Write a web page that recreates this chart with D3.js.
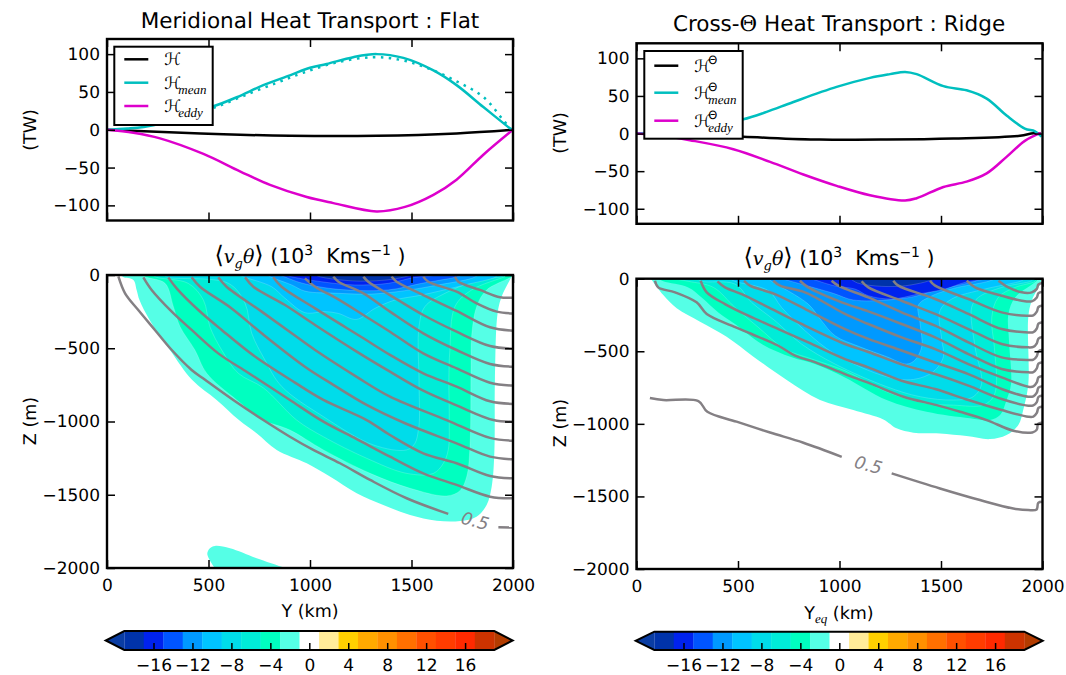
<!DOCTYPE html>
<html><head><meta charset="utf-8">
<script src="https://cdnjs.cloudflare.com/ajax/libs/d3/7.8.5/d3.min.js"></script>
<style>
html,body{margin:0;padding:0;background:#fff}
svg{display:block}
text{font-family:"DejaVu Sans",sans-serif;fill:#000;text-rendering:geometricPrecision}
</style></head><body>
<svg id="c" width="1066" height="675"></svg>
<script>
// ---------- shared values
const colorLevels = d3.range(-19, 20, 2);
const colorBins = ["#0033aa","#0022ee","#0055ff","#0099ff","#00c4ff","#00dcea","#00ecd8","#00ffc0","#55ffe6","#ffffff","#ffeb99","#ffd000","#ffaa00","#ff9000","#ff7000","#ff5000","#ff3c00","#ff2a00","#cc3300"];
const colorUnder = "#0a3da3", colorOver = "#b33c00";
const cbarTicks = [-16,-12,-8,-4,0,4,8,12,16];
const xTicks = [0,500,1000,1500,2000];
const heatTicks = [-100,-50,0,50,100];
const depthTicks = [0,-500,-1000,-1500,-2000];

// ---------- top-left: heat transport (Y km, TW)
const flatTotal = [[0,0],[245,-2.6],[573,-6],[901,-7.9],[1328,-7.9],[1722,-4.8],[2000,0]];
const flatMean = [[0,0],[100,1.5],[228,6],[350,17],[450,26],[524,31],[639,43],[770,59],[901,72],[1000,82],[1082,87],[1213,96],[1328,100],[1460,95],[1608,78.5],[1722,59],[1854,30],[1993,0]];
const flatMeanDotted = [[524,29],[557,32],[688,46.5],[836,62],[967,75.4],[1131,89],[1312,96],[1443,92.5],[1575,82],[1722,64],[1854,43.4],[1952,12.7],[1993,0]];
const flatEddy = [[0,0],[130,-4],[261,-11.4],[475,-32],[655,-55],[803,-73],[984,-89],[1115,-97],[1328,-108],[1468,-102],[1608,-86],[1722,-66],[1854,-33],[2000,0]];

// ---------- top-right
const ridgeTotal = [[0,0],[250,-2],[526,-4.4],[903,-8],[1232,-8],[1561,-6.6],[1889,-3],[1955,0.4],[1991,0]];
const ridgeMean = [[0,0],[150,3],[300,10],[400,14],[526,19],[641,28.8],[773,42],[986,62],[1150,74],[1249,79],[1323,82],[1380,79],[1512,63],[1626,57.5],[1725,46.5],[1823,24],[1913,6.6],[1963,3],[1995,-4]];
const ridgeEddy = [[0,0],[130,-3],[263,-8.8],[477,-20.8],[658,-37.6],[822,-54.4],[986,-69.5],[1150,-82],[1323,-89],[1380,-86],[1512,-71],[1626,-64],[1725,-53],[1823,-31],[1913,-9.7],[1991,0.9]];

// ---------- bottom-left filled contours (Y km, Z m), each tagged by its colour-bin value
const flatBinM2 = [[70,0],[80,-14],[130,-34],[146,-102],[160,-171],[210,-307],[310,-512],[420,-717],[540,-853],[650,-990],[737,-1080],[836,-1194],[984,-1285],[1098,-1376],[1230,-1490],[1361,-1570],[1493,-1638],[1624,-1677],[1740,-1679],[1820,-1650],[1870,-1570],[1895,-1445],[1908,-1217],[1911,-717],[1924,-262],[1944,-148],[1993,-11],[1996,0]];
const flatBlob = [[536,-2010],[494,-1904],[507,-1865],[532,-1849],[606,-1865],[737,-1933],[901,-2010]];
const flatBinM4 = [[170,0],[195,-16],[286,-57],[327,-216],[360,-353],[433,-512],[491,-671],[639,-853],[770,-990],[901,-1058],[1066,-1194],[1296,-1354],[1493,-1456],[1673,-1508],[1739,-1472],[1772,-1376],[1788,-1172],[1793,-648],[1796,-421],[1821,-216],[1870,-102],[1993,-11],[1996,0]];
const flatBinM6 = [[225,0],[245,-16],[400,-57],[475,-171],[507,-353],[565,-512],[647,-671],[770,-770],[934,-990],[1066,-1104],[1279,-1251],[1476,-1354],[1608,-1354],[1657,-1285],[1681,-1194],[1686,-990],[1684,-717],[1689,-512],[1714,-216],[1796,-102],[1960,-11],[1975,0]];
const flatBinM8 = [[280,0],[300,-16],[598,-57],[680,-193],[713,-398],[778,-580],[860,-760],[1066,-967],[1312,-1160],[1476,-1194],[1517,-1149],[1534,-1058],[1539,-990],[1537,-717],[1537,-353],[1566,-216],[1665,-125],[1829,-34],[1944,-11],[1955,0]];
const flatBinM10 = [[650,0],[680,-16],[811,-80],[877,-159],[975,-257],[1074,-250],[1139,-262],[1229,-303],[1320,-228],[1418,-171],[1550,-137],[1763,-68],[1911,-16],[1925,0]];
const flatBinM12 = [[790,0],[811,-16],[910,-68],[975,-110],[1139,-125],[1304,-130],[1467,-107],[1632,-68],[1796,-23],[1830,0]];
const flatBinM14 = [[850,0],[870,-10],[960,-55],[1139,-98],[1385,-102],[1550,-57],[1714,-16],[1750,0]];
const flatBinM16 = [[890,0],[900,-8],[1057,-46],[1221,-68],[1385,-57],[1517,-16],[1600,-5],[1620,0]];
const flatBinM18 = [[1030,0],[1040,-8],[1100,-25],[1250,-42],[1400,-30],[1480,-8],[1500,0]];

// ---------- bottom-right filled contours
const ridgeBinM2 = [[70,0],[75,-9],[132,-113],[198,-204],[313,-296],[444,-400],[576,-537],[740,-698],[904,-836],[1068,-905],[1216,-970],[1281,-1031],[1364,-1061],[1495,-1066],[1626,-1084],[1741,-1105],[1823,-1077],[1881,-1008],[1905,-905],[1930,-726],[1930,-266],[1947,-152],[1988,-37],[1995,0]];
const ridgeBinM4 = [[110,0],[132,-18],[255,-60],[321,-129],[403,-232],[485,-312],[617,-450],[765,-542],[879,-588],[1027,-680],[1232,-836],[1429,-917],[1643,-962],[1741,-974],[1791,-939],[1823,-836],[1845,-726],[1835,-427],[1832,-243],[1865,-129],[1963,-25],[1980,0]];
const ridgeBinM6 = [[180,0],[255,-18],[379,-60],[485,-198],[600,-335],[731,-485],[863,-553],[1027,-634],[1232,-779],[1429,-859],[1561,-871],[1708,-871],[1758,-813],[1773,-726],[1763,-473],[1750,-266],[1782,-129],[1865,-60],[1963,-18],[1970,0]];
const ridgeBinM8 = [[300,0],[321,-18],[485,-37],[567,-163],[682,-289],[813,-450],[978,-588],[1232,-744],[1397,-813],[1561,-836],[1659,-813],[1700,-726],[1668,-473],[1651,-197],[1684,-129],[1799,-60],[1947,-14],[1955,0]];
const ridgeBinM10 = [[460,0],[485,-18],[650,-83],[715,-198],[830,-358],[978,-519],[1232,-675],[1364,-694],[1462,-641],[1512,-537],[1504,-423],[1495,-220],[1553,-140],[1717,-71],[1897,-14],[1910,0]];
const ridgeBinM12 = [[650,0],[666,-18],[846,-175],[911,-289],[978,-393],[1100,-469],[1232,-537],[1331,-588],[1372,-560],[1405,-469],[1397,-308],[1389,-181],[1446,-124],[1561,-67],[1725,-21],[1770,0]];
const ridgeBinM14 = [[720,0],[740,-9],[970,-101],[1068,-147],[1232,-147],[1364,-124],[1479,-78],[1659,-21],[1700,0]];
const ridgeBinM16 = [[860,0],[880,-9],[978,-50],[1076,-71],[1142,-117],[1257,-140],[1388,-106],[1520,-71],[1618,-25],[1700,-7],[1720,0]];
const ridgeBinM18 = [[1050,0],[1060,-7],[1090,-30],[1180,-50],[1300,-52],[1400,-30],[1460,-7],[1475,0]];

const flatLayers = [[-2,flatBinM2],[-2,flatBlob],[-4,flatBinM4],[-6,flatBinM6],[-8,flatBinM8],[-10,flatBinM10],[-12,flatBinM12],[-14,flatBinM14],[-16,flatBinM16],[-18,flatBinM18]];
const ridgeLayers = [[-2,ridgeBinM2],[-4,ridgeBinM4],[-6,ridgeBinM6],[-8,ridgeBinM8],[-10,ridgeBinM10],[-12,ridgeBinM12],[-14,ridgeBinM14],[-16,ridgeBinM16],[-18,ridgeBinM18]];

// ---------- bottom-left grey isolines
const flatIso0a = [[56,-10],[89,-125],[154,-239],[236,-375],[319,-512],[417,-648],[483,-715],[622,-853],[770,-990],[901,-1104],[1016,-1194],[1148,-1285],[1296,-1399],[1476,-1524],[1681,-1631]];
const flatIso0b = [[1928,-1722],[2000,-1724]];
const flatIso1 = [[179,-16],[220,-102],[319,-250],[417,-375],[548,-535],[680,-654],[754,-720],[901,-853],[1066,-1001],[1230,-1120],[1394,-1240],[1558,-1354],[1722,-1433],[1887,-1513],[2000,-1524]];
const flatIso2 = [[302,-16],[343,-91],[450,-239],[565,-375],[729,-557],[926,-735],[1066,-853],[1279,-990],[1394,-1092],[1558,-1217],[1722,-1285],[1887,-1372],[2000,-1388]];
const flatIso3 = [[417,-16],[458,-80],[614,-228],[762,-398],[975,-626],[1115,-750],[1279,-887],[1468,-1012],[1722,-1149],[1887,-1240],[2000,-1258]];
const flatIso4 = [[548,-16],[589,-80],[762,-250],[910,-398],[1025,-512],[1230,-695],[1394,-830],[1673,-990],[1887,-1112],[2000,-1131]];
const flatIso5 = [[680,-16],[721,-80],[877,-205],[1025,-341],[1230,-523],[1394,-660],[1558,-790],[1722,-890],[1903,-990],[2000,-1001]];
const flatIso6 = [[819,-16],[860,-80],[1025,-228],[1263,-432],[1394,-545],[1558,-671],[1722,-762],[1887,-862],[2000,-880]];
const flatIso7 = [[975,-23],[1025,-80],[1131,-160],[1263,-273],[1394,-387],[1558,-535],[1722,-637],[1887,-735],[2000,-755]];
const flatIso8 = [[1115,-11],[1140,-46],[1263,-125],[1394,-250],[1558,-398],[1722,-512],[1887,-607],[2000,-626]];
const flatIso9 = [[1263,-11],[1287,-46],[1394,-137],[1558,-273],[1722,-387],[1887,-485],[2000,-503]];
const flatIso10 = [[1402,-11],[1427,-46],[1558,-137],[1722,-245],[1887,-357],[2000,-380]];
const flatIso11 = [[1558,-11],[1583,-46],[1722,-114],[1821,-193],[1920,-250],[2000,-262]];
const flatIso12 = [[1714,-11],[1731,-46],[1837,-102],[1936,-152],[2000,-155]];
const flatIsos = [flatIso0a,flatIso0b,flatIso1,flatIso2,flatIso3,flatIso4,flatIso5,flatIso6,flatIso7,flatIso8,flatIso9,flatIso10,flatIso11,flatIso12];

// ---------- bottom-right grey isolines
const ridgeIso0a = [[66,-822],[132,-836],[305,-843],[349,-917],[493,-985],[658,-1060],[822,-1130],[1011,-1227]];
const ridgeIso0b = [[1257,-1341],[1495,-1445],[1692,-1525],[1856,-1583],[1930,-1594],[1971,-1590],[1979,-1544],[2000,-1537]];
const ridgeIso1 = [[91,-14],[107,-60],[190,-94],[296,-163],[346,-243],[469,-324],[567,-381],[699,-462],[781,-530],[879,-575],[1027,-657],[1150,-721],[1315,-813],[1479,-871],[1594,-917],[1725,-974],[1856,-1047],[1950,-1059],[1972,-1040],[1978,-1000],[2000,-990]];
const ridgeIso2 = [[316,-14],[346,-94],[436,-175],[551,-255],[699,-347],[846,-439],[1027,-554],[1142,-611],[1306,-703],[1471,-760],[1635,-836],[1799,-905],[1930,-951],[1955,-950],[1972,-925],[1980,-890],[2000,-880]];
const ridgeIso3 = [[399,-18],[436,-60],[518,-106],[650,-197],[813,-312],[1027,-450],[1142,-505],[1306,-590],[1471,-657],[1635,-737],[1799,-829],[1930,-875],[1955,-872],[1972,-850],[1980,-815],[2000,-805]];
const ridgeIso4 = [[530,-14],[559,-48],[682,-106],[846,-220],[1027,-347],[1142,-415],[1306,-495],[1471,-577],[1635,-657],[1799,-760],[1930,-813],[1955,-810],[1972,-785],[1980,-750],[2000,-740]];
const ridgeIso5 = [[674,-14],[707,-48],[830,-94],[1027,-243],[1142,-312],[1306,-404],[1471,-485],[1635,-588],[1799,-680],[1930,-744],[1955,-742],[1972,-715],[1980,-680],[2000,-670]];
const ridgeIso6 = [[805,-14],[846,-60],[1011,-163],[1142,-225],[1306,-312],[1471,-404],[1635,-519],[1799,-622],[1930,-645],[1955,-643],[1972,-618],[1980,-585],[2000,-575]];
const ridgeIso7 = [[961,-14],[994,-48],[1142,-129],[1306,-232],[1471,-324],[1635,-439],[1799,-542],[1930,-560],[1955,-558],[1972,-533],[1980,-500],[2000,-490]];
const ridgeIso8 = [[1109,-18],[1142,-60],[1306,-152],[1471,-243],[1635,-347],[1799,-450],[1930,-473],[1955,-470],[1972,-445],[1980,-412],[2000,-402]];
const ridgeIso9 = [[1265,-14],[1290,-48],[1471,-140],[1635,-243],[1799,-347],[1930,-370],[1955,-368],[1972,-343],[1980,-310],[2000,-300]];
const ridgeIso10 = [[1446,-14],[1471,-48],[1635,-140],[1799,-232],[1922,-255],[1955,-252],[1972,-227],[1980,-195],[2000,-185]];
const ridgeIso11 = [[1627,-14],[1668,-60],[1799,-117],[1898,-152],[1947,-156],[1972,-130],[1980,-100],[2000,-90]];
const ridgeIso12 = [[1783,-14],[1832,-60],[1898,-94],[1947,-94],[1972,-70],[1980,-40],[2000,-30]];
const ridgeIsos = [ridgeIso0a,ridgeIso0b,ridgeIso1,ridgeIso2,ridgeIso3,ridgeIso4,ridgeIso5,ridgeIso6,ridgeIso7,ridgeIso8,ridgeIso9,ridgeIso10,ridgeIso11,ridgeIso12];

// ---------- drawing
const svg = d3.select("#c");
const binColor = d3.scaleThreshold().domain(colorLevels).range([colorUnder].concat(colorBins, [colorOver]));
const blue = "#00bfbf", pink = "#dd00cc", grey = "#848084";
const tickFont = 17;
let clipN = 0;

function frame(box, xDomain, yDomain, yT) {
  const x = d3.scaleLinear().domain(xDomain).range([box.x, box.x + box.w]);
  const y = d3.scaleLinear().domain(yDomain).range([box.y + box.h, box.y]);
  const id = "clip" + (clipN++);
  svg.append("clipPath").attr("id", id).append("rect").attr("x", box.x).attr("y", box.y).attr("width", box.w).attr("height", box.h);
  const g = svg.append("g").attr("clip-path", `url(#${id})`);
  return {x, y, g, box, yT};
}
function finish(p, showX) {
  const {x, y, box, yT} = p;
  const axes = svg.append("g");
  const style = s => { s.select(".domain").remove(); s.selectAll("line").attr("stroke", "#000").attr("stroke-width", 1.5); s.selectAll("text").attr("font-size", tickFont).attr("font-family", '"DejaVu Sans"').attr("fill","#000"); };
  axes.append("g").attr("transform", `translate(${box.x},0)`).call(d3.axisLeft(y).tickValues(yT).tickSize(-8).tickPadding(7).tickFormat(d3.format("d"))).call(style);
  axes.append("g").attr("transform", `translate(${box.x + box.w},0)`).call(d3.axisRight(y).tickValues(yT).tickSize(-8).tickFormat("")).call(style);
  axes.append("g").attr("transform", `translate(0,${box.y + box.h})`).call(d3.axisBottom(x).tickValues(xTicks).tickSize(-8).tickPadding(11).tickFormat(showX ? d3.format("d") : "")).call(style);
  axes.append("g").attr("transform", `translate(0,${box.y})`).call(d3.axisTop(x).tickValues(xTicks).tickSize(-8).tickFormat("")).call(style);
  axes.append("rect").attr("x", box.x).attr("y", box.y).attr("width", box.w).attr("height", box.h).attr("fill", "none").attr("stroke", "#000").attr("stroke-width", 2.4);
}
function label(txt, x, y, size, rot) {
  const t = svg.append("text").attr("x", x).attr("y", y).attr("font-size", size).attr("text-anchor", "middle").text(txt);
  if (rot) t.attr("transform", `rotate(${rot} ${x} ${y})`);
  return t;
}

function heatPanel(box, series, dotted, legendBox, legendRows, legendNames) {
  const p = frame(box, [0, 2000], [-120, 120], heatTicks);
  const line = d3.line().x(d => p.x(d[0])).y(d => p.y(d[1])).curve(d3.curveCatmullRom.alpha(0.5));
  if (dotted) p.g.append("path").attr("d", line(dotted)).attr("fill", "none").attr("stroke", blue).attr("stroke-width", 2.5).attr("stroke-dasharray", "2.5 5.5");
  series.forEach(([d, c]) => p.g.append("path").attr("d", line(d)).attr("fill", "none").attr("stroke", c).attr("stroke-width", 2.5));
  finish(p, false);
  svg.append("rect").attr("x", legendBox[0]).attr("y", legendBox[1]).attr("width", legendBox[2]).attr("height", legendBox[3]).attr("fill", "#fff").attr("stroke", "#000").attr("stroke-width", 2);
  series.forEach(([d, c], i) => {
    const ly = legendRows[i], tx = legendBox[0] + 50;
    svg.append("line").attr("x1", legendBox[0] + 10).attr("x2", legendBox[0] + 34).attr("y1", ly).attr("y2", ly).attr("stroke", c).attr("stroke-width", 2.5);
    const t = svg.append("text").attr("x", tx).attr("y", ly + 6).attr("font-size", 17).attr("font-family", '"DejaVu Serif"');
    t.append("tspan").text("ℋ");
    const [sup, sub] = legendNames[i];
    if (sup) t.append("tspan").attr("x", tx + 14).attr("dy", -8).attr("font-size", 11.5).text(sup);
    if (sub) t.append("tspan").attr("x", tx + 14).attr("dy", sup ? 13 : 5).attr("font-size", 13).attr("font-family", '"Liberation Serif"').attr("font-style", "italic").text(sub);
  });
}

function contourPanel(box, layers, isos, note) {
  const p = frame(box, [0, 2000], [-2000, 0], depthTicks);
  const area = d3.line().x(d => p.x(d[0])).y(d => p.y(d[1])).curve(d3.curveCatmullRom.alpha(0.5));
  layers.forEach(([bin, pts], i) => {
    p.g.append("path").attr("d", area(pts) + "Z").attr("fill", binColor(bin))
      .attr("stroke", i > 1 ? "#fff" : "none").attr("stroke-opacity", 0.3).attr("stroke-width", 0.6);
  });
  isos.forEach(pts => p.g.append("path").attr("d", area(pts)).attr("fill", "none").attr("stroke", grey).attr("stroke-width", 2.5));
  finish(p, true);
  const nx = p.x(note[0]), ny = p.y(note[1]);
  svg.append("text").attr("x", nx).attr("y", ny + 6).attr("font-size", 17.5).attr("font-style", "italic").attr("text-anchor", "middle").style("fill", grey)
    .attr("transform", `rotate(15 ${nx} ${ny})`).text("0.5");
  return p;
}

function colorbar(x0, x1, y0, y1, tipL, tipR) {
  const x = d3.scaleLinear().domain([-19, 19]).range([x0, x1]);
  const g = svg.append("g");
  g.append("path").attr("d", `M${x0},${y0}L${tipL},${(y0 + y1) / 2}L${x0},${y1}Z`).attr("fill", colorUnder);
  g.append("path").attr("d", `M${x1},${y0}L${tipR},${(y0 + y1) / 2}L${x1},${y1}Z`).attr("fill", colorOver);
  g.selectAll("rect").data(d3.range(colorBins.length)).join("rect")
    .attr("x", i => x(colorLevels[i])).attr("width", i => x(colorLevels[i + 1]) - x(colorLevels[i]) + 0.3)
    .attr("y", y0).attr("height", y1 - y0).attr("fill", i => colorBins[i]);
  g.append("path").attr("d", `M${x0},${y0}L${x1},${y0}L${tipR},${(y0 + y1) / 2}L${x1},${y1}L${x0},${y1}L${tipL},${(y0 + y1) / 2}Z`).attr("fill", "none").attr("stroke", "#000").attr("stroke-width", 2);
  const ax = g.append("g").attr("transform", `translate(0,${y1})`).call(d3.axisBottom(x).tickValues(cbarTicks).tickSize(-7).tickPadding(8.5));
  ax.select(".domain").remove();
  ax.selectAll("line").attr("stroke", "#000").attr("stroke-width", 1.5);
  ax.selectAll("text").attr("font-size", tickFont).attr("font-family", '"DejaVu Sans"').attr("fill", "#000");
}

function vtTitle(cx, y) {
  const t = svg.append("text").attr("x", cx).attr("y", y).attr("text-anchor", "middle").attr("font-size", 20.5);
  const serif = '"DejaVu Serif"';
  t.append("tspan").attr("font-family", serif).attr("font-size", 24).text("⟨");
  t.append("tspan").attr("font-family", serif).attr("font-style", "italic").attr("font-size", 19).text("v");
  t.append("tspan").attr("font-family", serif).attr("font-style", "italic").attr("font-size", 13).attr("dy", 5).text("g");
  t.append("tspan").attr("font-family", serif).attr("font-style", "italic").attr("font-size", 19).attr("dy", -5).text("θ");
  t.append("tspan").attr("font-family", serif).attr("font-size", 24).text("⟩");
  t.append("tspan").text(" (10");
  t.append("tspan").attr("font-size", 14).attr("dy", -8).text("3");
  t.append("tspan").attr("dy", 8).text("\u00a0\u00a0Kms");
  t.append("tspan").attr("font-size", 14).attr("dy", -8).text("−1");
  t.append("tspan").attr("dy", 8).text(" )");
}

heatPanel({x:107,y:39,w:406,h:181.5}, [[flatTotal,"#000"],[flatMean,blue],[flatEddy,pink]], flatMeanDotted, [114.3,46.7,98.4,78.3], [59.3,82.7,106], [[null,null],[null,"mean"],[null,"eddy"]]);
heatPanel({x:636.5,y:43.3,w:406,h:180.5}, [[ridgeTotal,"#000"],[ridgeMean,blue],[ridgeEddy,pink]], null, [644.3,51,98.4,87.7], [65.7,92.7,120.7], [["Θ",null],["Θ","mean"],["Θ","eddy"]]);

contourPanel({x:107,y:275,w:406,h:293}, flatLayers, flatIsos, [1813,-1679]);
contourPanel({x:636.5,y:278.7,w:406,h:290.3}, ridgeLayers, ridgeIsos, [1142,-1284]);

colorbar(124.3,494.3,631,650,105.7,512.7);
colorbar(654.3,1024.3,631.7,650,635.7,1042.7);

label("Meridional Heat Transport : Flat", 310, 28, 21.5);
const rt = label("", 839, 31, 21.5);
rt.append("tspan").text("Cross-");
rt.append("tspan").attr("font-family", '"DejaVu Serif"').text("Θ");
rt.append("tspan").text(" Heat Transport : Ridge");
vtTitle(310, 263);
vtTitle(839, 265);
label("(TW)", 36, 130, 17.5, -90);
label("(TW)", 566, 133, 17.5, -90);
label("Z (m)", 36, 421, 17.5, -90);
label("Z (m)", 566, 423, 17.5, -90);
label("Y (km)", 310, 617, 17.5);
const yeq = label("", 839, 619, 17.5);
yeq.append("tspan").text("Y");
yeq.append("tspan").attr("font-family", '"Liberation Serif"').attr("font-style", "italic").attr("font-size", 13).attr("dy", 4).text("eq");
yeq.append("tspan").attr("dy", -4).text(" (km)");
</script>
</body></html>
